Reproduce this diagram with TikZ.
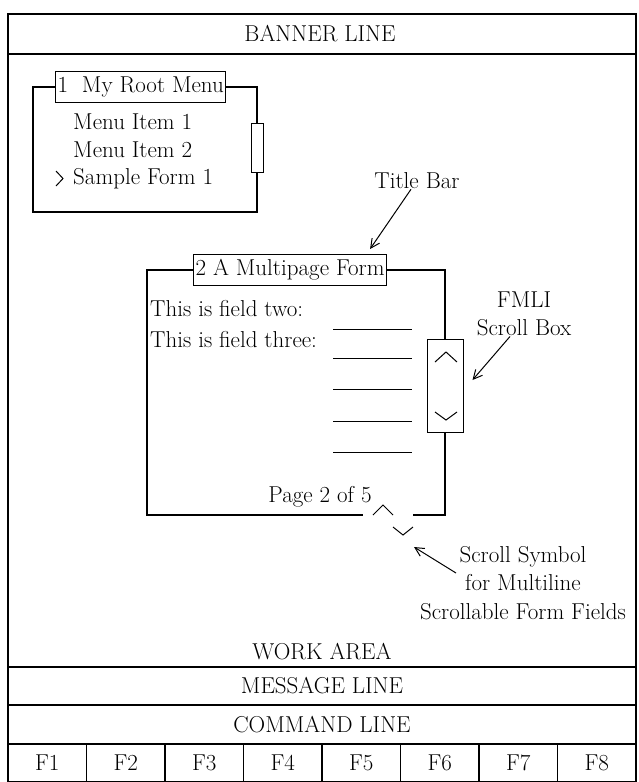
\documentclass[tikz,border=0pt]{standalone}
\usetikzlibrary{arrows.meta, positioning}

\begin{document}
\begin{tikzpicture}[x=1pt, y=-1pt,
    txt/.style={inner sep=0pt, font=\fontsize{23}{28.5}\selectfont},
    titlebox/.style={txt, draw, line width=1.1pt, inner xsep=2pt, inner ysep=5pt},
    note/.style={txt, align=center},
    frame/.style={line width=1.3pt},
    thin/.style={line width=1pt},
    arrow/.style={line width=1pt, -{Straight Barb[length=9pt, width=9pt]}}]

\useasboundingbox (0,0) rectangle (638,782);

% Screen layout
\draw [frame] (8,14) rectangle (636,782);
\draw [frame] (8,54) -- (636,54);
\draw [frame] (8,667) -- (636,667);
\draw [frame] (8,705) -- (636,705);
\draw [frame] (8,744) -- (636,744);
\foreach \i in {1,...,7}
  \draw [frame] (8+78.5*\i,744) -- (8+78.5*\i,782);

\node (banner) [txt] at (320,34)  {BANNER LINE};
\node (work)   [txt] at (322,652) {WORK AREA};
\node (msg)    [txt] at (322,686) {MESSAGE LINE};
\node (cmd)    [txt] at (322,725) {COMMAND LINE};
\foreach \i in {1,...,8}
  \node (f\i) [txt] at (8+78.5*\i-39.25,763) {F\i};

% Root menu window
\node (rtitle) [titlebox, anchor=west] at (55,87) {1\ \ My Root Menu};
\node (rbar) [draw, thin, minimum width=12pt, minimum height=49pt, inner sep=0pt] at (257,148) {};
\draw [frame] (rtitle.west) -| (33,212) -| (rbar.south);
\draw [frame] (rtitle.east) -| (rbar.north);

\node (item1) [txt, anchor=west] at (73,122) {Menu Item 1};
\node (item2) [txt, anchor=west] at (73,150) {Menu Item 2};
\node (item3) [txt, anchor=west] at (73,179) {Sample Form 1};
\draw [thin] (56,171) -- (63,178.5) -- (56,186);

% Multipage form window
\node (ftitle) [titlebox, anchor=west] at (193,270) {2 A Multipage Form};
\node (fbar) [draw, thin, minimum width=36pt, minimum height=93pt, inner sep=0pt] at (445,386) {};
\draw [frame] (ftitle.west) -| (147,515) -- (363,515);
\draw [frame] (ftitle.east) -| (fbar.north);
\draw [frame] (fbar.south) |- (413,515);
\draw [thin] (435,362) -- (446,352) -- (457,362);
\draw [thin] (435,412) -- (446,420) -- (457,412);

\node (fld2) [txt, anchor=west] at (150,309) {This is field two:};
\node (fld3) [txt, anchor=west] at (150,340) {This is field three:};
\foreach \y in {329,358,389,421,452}
  \draw [thin] (333,\y) -- (412,\y);
\node (page) [txt] at (320,497) {Page 2 of 5};

% Scroll symbol
\draw [thin] (373,515) -- (383,505) -- (393,515);
\draw [thin] (393,527) -- (403,535) -- (413,527);
\coordinate (vsym) at (414,547);

% Callouts
\node (tbar) [note] at (417,181) {Title Bar};
\draw [arrow] ([xshift=-6pt]tbar.south) -- ([xshift=-17pt, yshift=5pt]ftitle.north east);

\node (fmli) [note] at (524,314) {FMLI\\Scroll Box};
\draw [arrow] ([xshift=-14pt]fmli.south) -- ([xshift=9pt, yshift=6pt]fbar.east);

\node (ssym) [note] at (523,583) {Scroll Symbol\\for Multiline\\Scrollable Form Fields};
\coordinate (stail) at (456,573);
\draw [arrow] (stail) -- (vsym);
\end{tikzpicture}
\end{document}
